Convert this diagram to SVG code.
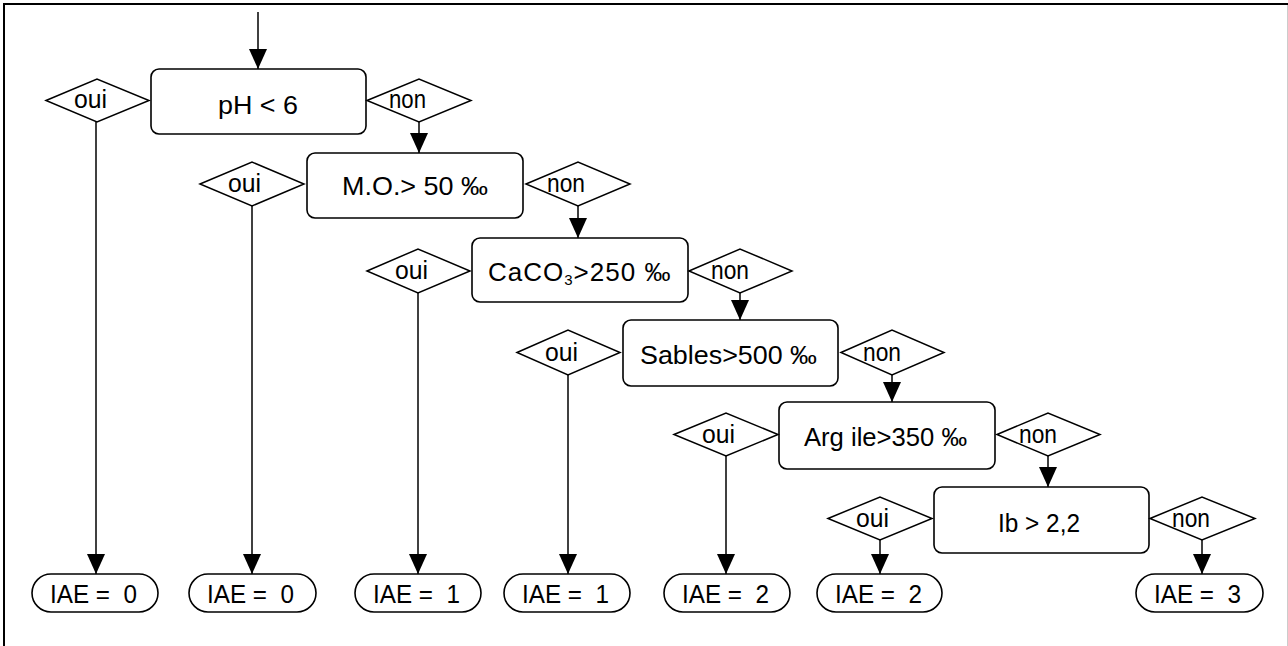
<svg xmlns="http://www.w3.org/2000/svg" width="1288" height="646" viewBox="0 0 1288 646">
<style>
.bg{fill:#fff}
.box{fill:#fff;stroke:#000;stroke-width:1.6}
.dia{fill:#fff;stroke:#000;stroke-width:1.5}
.term{fill:#fff;stroke:#000;stroke-width:1.6}
.ln{fill:none;stroke:#000;stroke-width:1.5}
text{font-family:"Liberation Sans",Arial,sans-serif;font-size:26px;fill:#000}
.t{white-space:pre;font-size:25px}
.a{white-space:pre}
</style>
<defs>
<marker id="ah" markerUnits="userSpaceOnUse" markerWidth="20" markerHeight="20" refX="20" refY="9" orient="auto" viewBox="0 0 20 18">
<path d="M0,0 L20,9 L0,18 z" fill="#000"/>
</marker>
</defs>
<rect class="bg" x="0" y="0" width="1288" height="646"/>
<g id="frame">
<line x1="4" y1="4" x2="1288" y2="4" stroke="#000" stroke-width="2"/>
<line x1="4" y1="3" x2="4" y2="646" stroke="#000" stroke-width="2"/>
<line x1="1287.5" y1="5" x2="1287.5" y2="646" stroke="#ccc" stroke-width="1"/>
</g>
<g id="connectors">
<line class="ln" x1="258" y1="12" x2="258" y2="69" marker-end="url(#ah)"/>
<line class="ln" x1="419" y1="122" x2="419" y2="153" marker-end="url(#ah)"/>
<line class="ln" x1="578" y1="206" x2="578" y2="238" marker-end="url(#ah)"/>
<line class="ln" x1="740" y1="293" x2="740" y2="320" marker-end="url(#ah)"/>
<line class="ln" x1="892" y1="375" x2="892" y2="402" marker-end="url(#ah)"/>
<line class="ln" x1="1048" y1="456" x2="1048" y2="487" marker-end="url(#ah)"/>
<line class="ln" x1="1202" y1="540" x2="1202" y2="574" marker-end="url(#ah)"/>
<line class="ln" x1="96" y1="122" x2="96" y2="574" marker-end="url(#ah)"/>
<line class="ln" x1="252" y1="206" x2="252" y2="574" marker-end="url(#ah)"/>
<line class="ln" x1="418" y1="293" x2="418" y2="574" marker-end="url(#ah)"/>
<line class="ln" x1="568" y1="375" x2="568" y2="574" marker-end="url(#ah)"/>
<line class="ln" x1="726" y1="456" x2="726" y2="574" marker-end="url(#ah)"/>
<line class="ln" x1="880" y1="540" x2="880" y2="574" marker-end="url(#ah)"/>
</g>
<g id="n-ph">
<rect class="box" x="151" y="69" width="215" height="65" rx="8"/>
<text x="218" y="114" textLength="80" lengthAdjust="spacingAndGlyphs">pH &lt; 6</text>
</g>
<g id="d-oui1"><polygon class="dia" points="46,100.5 97,79 149,100.5 97,122"/><text x="74" y="108" textLength="33" lengthAdjust="spacingAndGlyphs">oui</text></g>
<g id="d-non1"><polygon class="dia" points="367,100.5 419,79 471,100.5 419,122"/><text x="389" y="108" textLength="37" lengthAdjust="spacingAndGlyphs">non</text></g>
<g id="n-mo">
<rect class="box" x="307" y="153" width="216" height="65" rx="8"/>
<text x="342" y="195" textLength="146" lengthAdjust="spacingAndGlyphs">M.O.&gt; 50 ‰</text>
</g>
<g id="d-oui2"><polygon class="dia" points="200,184 252,162 304,184 252,206"/><text x="228" y="192" textLength="33" lengthAdjust="spacingAndGlyphs">oui</text></g>
<g id="d-non2"><polygon class="dia" points="526,184 578,162 630,184 578,206"/><text x="547" y="192" textLength="38" lengthAdjust="spacingAndGlyphs">non</text></g>
<g id="n-caco3">
<rect class="box" x="472" y="238" width="216" height="64" rx="8"/>
<text x="488" y="281" style="letter-spacing:1px">CaCO<tspan font-size="15" dy="4">3</tspan><tspan dy="-4">&gt;250 ‰</tspan></text>
</g>
<g id="d-oui3"><polygon class="dia" points="367,271 418,249 470,271 418,293"/><text x="395" y="279" textLength="33" lengthAdjust="spacingAndGlyphs">oui</text></g>
<g id="d-non3"><polygon class="dia" points="689,271 740,249 792,271 740,293"/><text x="711" y="279" textLength="38" lengthAdjust="spacingAndGlyphs">non</text></g>
<g id="n-sables">
<rect class="box" x="623" y="320" width="215" height="66" rx="8"/>
<text x="640" y="364" textLength="177" lengthAdjust="spacingAndGlyphs">Sables&gt;500 ‰</text>
</g>
<g id="d-oui4"><polygon class="dia" points="517,352.5 568,330 620,352.5 568,375"/><text x="545" y="361" textLength="33" lengthAdjust="spacingAndGlyphs">oui</text></g>
<g id="d-non4"><polygon class="dia" points="841,352.5 892,330 944,352.5 892,375"/><text x="863" y="361" textLength="38" lengthAdjust="spacingAndGlyphs">non</text></g>
<g id="n-argile">
<rect class="box" x="779" y="402" width="216" height="67" rx="8"/>
<text x="804" y="446" textLength="163" lengthAdjust="spacingAndGlyphs" class="a">Arg ile&gt;350 ‰</text>
</g>
<g id="d-oui5"><polygon class="dia" points="674,434.5 726,413 778,434.5 726,456"/><text x="702" y="443" textLength="33" lengthAdjust="spacingAndGlyphs">oui</text></g>
<g id="d-non5"><polygon class="dia" points="997,434.5 1048,413 1100,434.5 1048,456"/><text x="1019" y="443" textLength="38" lengthAdjust="spacingAndGlyphs">non</text></g>
<g id="n-ib">
<rect class="box" x="934" y="487" width="215" height="66" rx="8"/>
<text x="998" y="532" textLength="82" lengthAdjust="spacingAndGlyphs">Ib &gt; 2,2</text>
</g>
<g id="d-oui6"><polygon class="dia" points="828,518.5 880,497 932,518.5 880,540"/><text x="856" y="527" textLength="33" lengthAdjust="spacingAndGlyphs">oui</text></g>
<g id="d-non6"><polygon class="dia" points="1150,518.5 1202,497 1255,518.5 1202,540"/><text x="1172" y="527" textLength="38" lengthAdjust="spacingAndGlyphs">non</text></g>
<g id="t1"><rect class="term" x="32" y="574" width="126" height="38" rx="19"/><text class="t" x="50" y="603" textLength="87" lengthAdjust="spacingAndGlyphs">IAE =  0</text></g>
<g id="t2"><rect class="term" x="189" y="574" width="127" height="38" rx="19"/><text class="t" x="207" y="603" textLength="87" lengthAdjust="spacingAndGlyphs">IAE =  0</text></g>
<g id="t3"><rect class="term" x="355" y="574" width="126" height="38" rx="19"/><text class="t" x="373" y="603" textLength="87" lengthAdjust="spacingAndGlyphs">IAE =  1</text></g>
<g id="t4"><rect class="term" x="504" y="574" width="126" height="38" rx="19"/><text class="t" x="522" y="603" textLength="87" lengthAdjust="spacingAndGlyphs">IAE =  1</text></g>
<g id="t5"><rect class="term" x="664" y="574" width="126" height="38" rx="19"/><text class="t" x="682" y="603" textLength="87" lengthAdjust="spacingAndGlyphs">IAE =  2</text></g>
<g id="t6"><rect class="term" x="817" y="574" width="125" height="38" rx="19"/><text class="t" x="835" y="603" textLength="87" lengthAdjust="spacingAndGlyphs">IAE =  2</text></g>
<g id="t7"><rect class="term" x="1136" y="574" width="127" height="38" rx="19"/><text class="t" x="1154" y="603" textLength="87" lengthAdjust="spacingAndGlyphs">IAE =  3</text></g>
</svg>
